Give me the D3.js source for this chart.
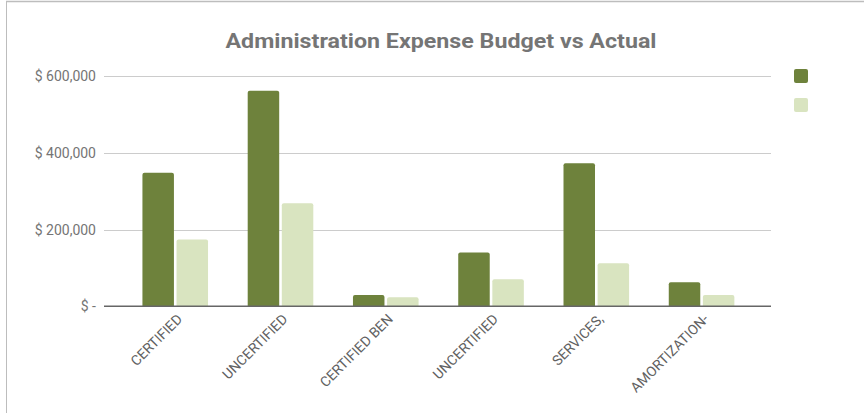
<!DOCTYPE html>
<html><head><meta charset="utf-8">
<script src="https://cdn.jsdelivr.net/npm/d3@7"></script>
<style>body{margin:0;background:#fff;} svg{display:block;}</style>
</head><body>
<script>
const categories = ["CERTIFIED","UNCERTIFIED","CERTIFIED BEN","UNCERTIFIED","SERVICES,","AMORTIZATION-"];
const budget = [348000, 562000, 29500, 140000, 373000, 62500];
const actual = [174000, 269000, 23500, 70500, 112000, 29500];
const yTicks = [0, 200000, 400000, 600000];
const yTickLabels = ["$ -", "$ 200,000", "$ 400,000", "$ 600,000"];
const seriesColors = ["#6e823c", "#d9e4c0"];

const W = 864, H = 413;
const svg = d3.select("body").append("svg").attr("width", W).attr("height", H);

// frame
svg.append("line").attr("x1",6).attr("x2",W).attr("y1",1.5).attr("y2",1.5).attr("stroke","#bdbdbd").attr("stroke-width",1.5);
svg.append("line").attr("x1",6.5).attr("x2",6.5).attr("y1",1).attr("y2",H).attr("stroke","#bdbdbd").attr("stroke-width",1);

const y = d3.scaleLinear().domain([0, 600000]).range([306.3, 76.2]);
const x = d3.scaleBand().domain(d3.range(categories.length)).range([122.6, 754.2]).paddingInner(0).paddingOuter(0);
const gridL = 104, gridR = 771;

// title
svg.append("text").attr("x", 441).attr("y", 48).attr("text-anchor","middle")
  .attr("font-family","Roboto, sans-serif").attr("font-weight","bold").attr("font-size",21)
  .attr("fill","#757575").attr("textLength",431).attr("lengthAdjust","spacingAndGlyphs")
  .text("Administration Expense Budget vs Actual");

// gridlines
svg.append("g").selectAll("line").data(yTicks.filter(d=>d>0)).join("line")
  .attr("x1",gridL).attr("x2",gridR).attr("y1",d=>Math.round(y(d))+0.5).attr("y2",d=>Math.round(y(d))+0.5)
  .attr("stroke","#cccccc").attr("stroke-width",1);

// y labels
svg.append("g").selectAll("text").data(yTicks).join("text")
  .attr("x",96).attr("y",d=>y(d)).attr("dy","0.35em").attr("text-anchor","end")
  .attr("font-family","Roboto, sans-serif").attr("font-size",14).attr("fill","#757575")
  .text((d,i)=>yTickLabels[i]);

// bars
const bw = 31.5, gap = 2.6;
const groupW = bw*2 + gap;
const g = svg.append("g");
categories.forEach((c,i)=>{
  const cx = x(i) + x.bandwidth()/2;
  [budget[i], actual[i]].forEach((v,s)=>{
    const x0 = cx - groupW/2 + s*(bw+gap);
    g.append("path")
      .attr("d", (()=>{ const r=2, top=y(v), bot=y(0), w=bw;
        return `M${x0},${bot}V${top+r}Q${x0},${top} ${x0+r},${top}H${x0+w-r}Q${x0+w},${top} ${x0+w},${top+r}V${bot}Z`; })())
      .attr("fill", seriesColors[s]);
  });
});

// baseline
svg.append("line").attr("x1",gridL).attr("x2",gridR).attr("y1",y(0)).attr("y2",y(0))
  .attr("stroke","#666666").attr("stroke-width",1.6);

// x labels
svg.append("g").selectAll("text").data(categories).join("text")
  .attr("transform",(d,i)=>`translate(${x(i)+x.bandwidth()/2+8},${320}) rotate(-45)`)
  .attr("text-anchor","end")
  .attr("font-family","Roboto, sans-serif").attr("font-size",14).attr("fill","#616161")
  .text(d=>d);

// legend
svg.append("g").selectAll("rect").data(seriesColors).join("rect")
  .attr("x",794).attr("y",(d,i)=>69 + i*29).attr("width",14).attr("height",14).attr("rx",2)
  .attr("fill",d=>d);
</script>
</body></html>
